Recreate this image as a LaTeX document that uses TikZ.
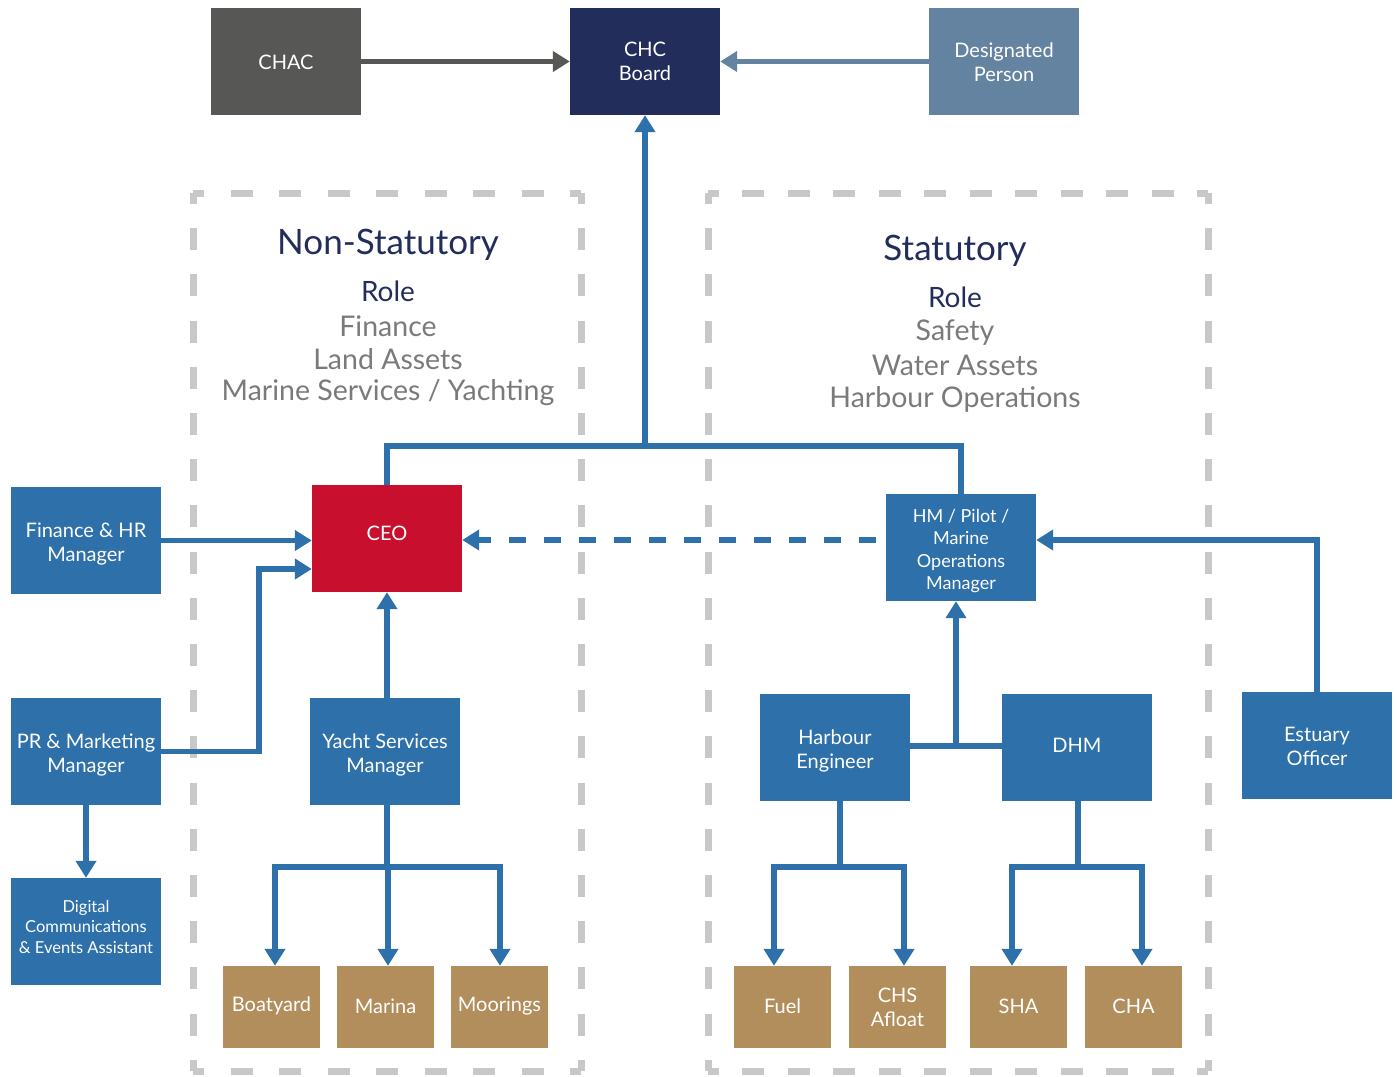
\documentclass[tikz,border=0pt]{standalone}
\usepackage{fontspec}
\setmainfont{Lato}
\usetikzlibrary{arrows.meta}
\definecolor{cblue}{HTML}{2E70AA}
\definecolor{cred}{HTML}{C8102E}
\definecolor{cnavy}{HTML}{232D5B}
\definecolor{cdgray}{HTML}{575756}
\definecolor{cslate}{HTML}{6483A0}
\definecolor{ctan}{HTML}{B38E5D}
\definecolor{cdash}{HTML}{C8C8C8}
\definecolor{ctext}{HTML}{7A7A7A}
\newcommand{\liftby}[2]{\raisebox{#1}[\height][\depth]{\begin{tabular}{@{}c@{}}#2\end{tabular}}}
\newcommand{\liftone}[2]{\raisebox{#1}[\height][\depth]{#2}}
\begin{document}
\begin{tikzpicture}[x=1pt,y=-1pt,
  box/.style={inner sep=2pt, minimum width=150pt, minimum height=107pt, text=white, align=center, font=\fontsize{20}{24}\selectfont},
  smallbox/.style={box, fill=ctan, minimum width=97pt, minimum height=82pt},
  conn/.style={draw=cblue, line width=5.5pt},
  arr/.style={conn, -{Triangle[width=20pt,length=17pt]}},
  frameh/.style={draw=cdash, line width=7pt},
  title/.style={text=cnavy, font=\fontsize{35}{38}\selectfont},
  rolet/.style={text=cnavy, font=\fontsize{28}{30}\selectfont},
  grayt/.style={text=ctext, font=\fontsize{28.5}{30}\selectfont}
]
\useasboundingbox (0,0) rectangle (1397,1076);

% dashed frames
\draw[frameh, dash pattern=on 22pt off 26.5pt, dash phase=11pt] (193,193) -- (581,193);
\draw[frameh, dash pattern=on 22pt off 26.5pt, dash phase=11pt] (193,1071) -- (581,1071);
\draw[frameh, dash pattern=on 22pt off 24.2pt, dash phase=11pt] (193,193) -- (193,1071);
\draw[frameh, dash pattern=on 22pt off 24.2pt, dash phase=11pt] (581,193) -- (581,1071);
\draw[frameh, dash pattern=on 22pt off 23.45pt, dash phase=11pt] (708,193) -- (1208,193);
\draw[frameh, dash pattern=on 22pt off 23.45pt, dash phase=11pt] (708,1071) -- (1208,1071);
\draw[frameh, dash pattern=on 22pt off 24.2pt, dash phase=11pt] (708,193) -- (708,1071);
\draw[frameh, dash pattern=on 22pt off 24.2pt, dash phase=11pt] (1208,193) -- (1208,1071);

% texts
\node[title] (nst) at (388,245) {Non-Statutory};
\node[rolet] (nsr) at (388,291) {Role};
\node[grayt] (ns1) at (388,326) {Finance};
\node[grayt] (ns2) at (388,359) {Land Assets};
\node[grayt] (ns3) at (388,393) {Marine Services / Yachting};
\node[title] (stt) at (955,251) {Statutory};
\node[rolet] (str) at (955,297) {Role};
\node[grayt] (st1) at (955,333) {Safety};
\node[grayt] (st2) at (955,365) {Water Assets};
\node[grayt] (st3) at (955,399) {Harbour Operations};

% nodes
\node[box, fill=cdgray] (chac) at (286,61.5) {\liftone{-1pt}{CHAC}};
\node[box, fill=cnavy] (board) at (645,61.5) {\liftby{-2.5pt}{CHC\\Board}};
\node[box, fill=cslate] (dp) at (1004,61.5) {\liftby{-3pt}{Designated\\Person}};
\node[box, fill=cred] (ceo) at (387,538.5) {\liftone{5pt}{CEO}};
\node[box, fill=cblue] (fin) at (86,540.5) {\liftby{-4pt}{Finance \& HR\\Manager}};
\node[box, fill=cblue] (pr) at (86,751.5) {\liftby{-4.5pt}{PR \& Marketing\\Manager}};
\node[box, fill=cblue, font=\fontsize{16.5}{20.5}\selectfont] (dig) at (86,931.5) {\liftby{3pt}{Digital\\Communications\\\& Events Assistant}};
\node[box, fill=cblue] (ysm) at (385,751.5) {\liftby{-4pt}{Yacht Services\\Manager}};
\node[smallbox] (boat) at (271.5,1007) {\liftone{1pt}{Boatyard}};
\node[smallbox] (mar) at (385.5,1007) {\liftone{1pt}{Marina}};
\node[smallbox] (moor) at (499.5,1007) {\liftone{1pt}{Moorings}};
\node[box, fill=cblue, font=\fontsize{18}{22.5}\selectfont] (hm) at (961,547.5) {\liftby{-4pt}{HM / Pilot /\\Marine\\Operations\\Manager}};
\node[box, fill=cblue] (est) at (1317,745.5) {\liftby{-3.5pt}{Estuary\\Officer}};
\node[box, fill=cblue] (he) at (835,747.5) {\liftby{-4pt}{Harbour\\Engineer}};
\node[box, fill=cblue] (dhm) at (1077,747.5) {\liftone{2pt}{DHM}};
\node[smallbox] (fuel) at (782.5,1007) {\liftone{1pt}{Fuel}};
\node[smallbox] (chs) at (897.5,1007) {\liftby{-2.5pt}{CHS\\Afloat}};
\node[smallbox] (sha) at (1018.5,1007) {\liftone{1pt}{SHA}};
\node[smallbox] (cha) at (1133.5,1007) {\liftone{1pt}{CHA}};

% top connectors
\draw[line width=5pt, draw=cdgray, -{Triangle[width=20pt,length=17pt]}] (chac.east) -- (board.west);
\draw[line width=5pt, draw=cslate, -{Triangle[width=20pt,length=17pt]}] (dp.west) -- (board.east);

% main tree
\coordinate (top) at (645,446);
\draw[conn] (ceo.north) |- (top) -| (hm.north);
\draw[arr] (top) -- (board.south);

% left side
\draw[arr] (fin.east) -- (fin.east -| ceo.west);
\coordinate (prj) at (259,569);
\draw[arr] (pr.east) -| (prj) -- (prj -| ceo.west);
\draw[arr] (pr.south) -- (dig.north);
\draw[arr] ([xshift=2pt]ysm.north) -- ([xshift=2pt]ysm.north |- ceo.south);
\coordinate (ysj) at (387,867);
\draw[conn] ([xshift=2pt]ysm.south) -- (ysj);
\draw[arr] (ysj) -| ([xshift=3.5pt]boat.north);
\draw[arr] (ysj) -| ([xshift=2.5pt]mar.north);
\draw[arr] (ysj) -| ([xshift=0.5pt]moor.north);

% dashed
\draw[conn, dash pattern=on 17pt off 18pt, dash phase=25pt, -{Triangle[width=20pt,length=17pt]}] ([yshift=7.5pt]hm.west) -- ([yshift=7.5pt]hm.west -| ceo.east);

% right side
\draw[arr] (est.north) |- ([yshift=7.5pt]hm.east);
\coordinate (hj) at (956,746);
\draw[conn] (he.east |- hj) -- (dhm.west |- hj);
\draw[arr] (hj) -- (hj |- hm.south);
\coordinate (hej) at (840,867);
\draw[conn] (hej |- he.south) -- (hej);
\draw[arr] (hej) -| ([xshift=-8.5pt]fuel.north);
\draw[arr] (hej) -| ([xshift=6.5pt]chs.north);
\coordinate (dj) at (1078,867);
\draw[conn] (dj |- dhm.south) -- (dj);
\draw[arr] (dj) -| ([xshift=-6.5pt]sha.north);
\draw[arr] (dj) -| ([xshift=8.5pt]cha.north);
\end{tikzpicture}
\end{document}
